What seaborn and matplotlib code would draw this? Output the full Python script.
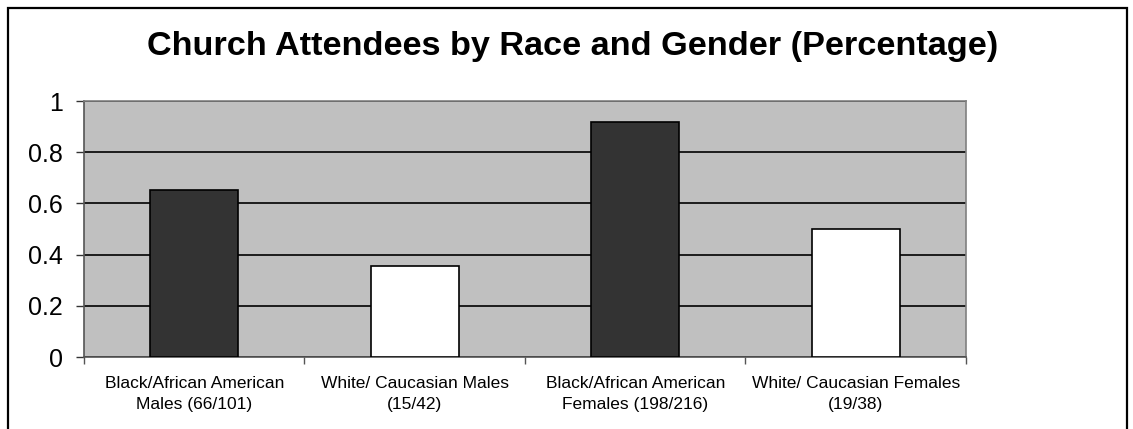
import pandas as pd
import matplotlib.pyplot as plt
import matplotlib.patches as mpatches
from matplotlib.ticker import FixedLocator
import seaborn as sns

### data
groups = ["Black/African American\nMales (66/101)",
          "White/ Caucasian Males\n(15/42)",
          "Black/African American\nFemales (198/216)",
          "White/ Caucasian Females\n(19/38)"]
share = [0.653, 0.357, 0.917, 0.5]
bar_colours = ["#333333", "#ffffff", "#333333", "#ffffff"]
y_ticks = [0, 0.2, 0.4, 0.6, 0.8, 1]
y_labels = ["0", "0.2", "0.4", "0.6", "0.8", "1"]

df = pd.DataFrame({"group": groups, "share": share})

sns.set_style("white")
plt.rcParams["font.family"] = ["Liberation Sans", "DejaVu Sans"]
plt.rcParams["text.color"] = "black"
plt.rcParams["xtick.color"] = "black"
plt.rcParams["ytick.color"] = "black"

fig = plt.figure(figsize=(11.33, 4.29), dpi=100)
ax = fig.add_axes([0.0741, 0.1678, 0.7785, 0.5967])
ax.set_facecolor("#c0c0c0")

sns.barplot(data=df, x="group", y="share", hue="group", palette=bar_colours,
            legend=False, width=0.40, edgecolor="black", linewidth=1.2,
            saturation=1, ax=ax, zorder=3)

ax.set_ylim(0, 1)
ax.set_xlim(-0.5, len(groups) - 0.5)
ax.set_yticks(y_ticks)
ax.set_yticklabels(y_labels, fontsize=18)
ax.yaxis.grid(True, color="black", linewidth=1.2, zorder=0)
ax.set_axisbelow(True)

ax.set_xticks(range(len(groups)))
ax.set_xticklabels(groups, fontsize=12.5, linespacing=1.45)

# category boundary ticks like the original
ax.xaxis.set_minor_locator(FixedLocator([i - 0.5 for i in range(len(groups) + 1)]))
ax.tick_params(axis="x", which="major", length=0, pad=14)
ax.tick_params(axis="x", which="minor", length=5, width=1, color="#555555", bottom=True)
ax.tick_params(axis="y", length=6, width=1, color="#333333", left=True, pad=9)

for side in ["left", "bottom", "right", "top"]:
    ax.spines[side].set_visible(True)
    ax.spines[side].set_color("#808080")
    ax.spines[side].set_linewidth(1.2)
ax.spines["left"].set_color("#555555")
ax.spines["bottom"].set_color("#555555")

ax.set_xlabel("")
ax.set_ylabel("")

fig.text(0.505, 0.872, "Church Attendees by Race and Gender (Percentage)",
         ha="center", va="baseline", fontsize=24.7, fontweight="bold", color="black")

# outer frame
fig.patches.append(mpatches.Rectangle((8 / 1133, -0.02), (1127 - 8) / 1133, 0.02 + (429 - 8) / 429,
                                      transform=fig.transFigure, fill=False,
                                      edgecolor="black", linewidth=1.6))

plt.savefig("out.png", dpi=100)
